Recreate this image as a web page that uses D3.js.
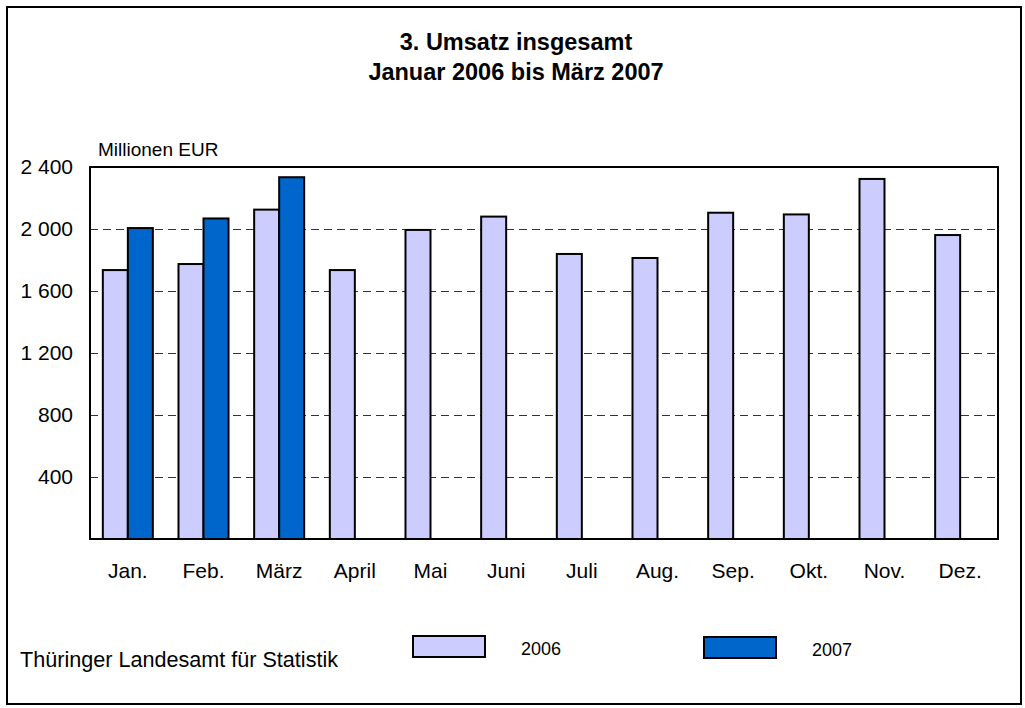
<!DOCTYPE html>
<html>
<head>
<meta charset="utf-8">
<script src="https://cdn.jsdelivr.net/npm/d3@7"></script>
<style>
  body { margin: 0; background: #fff; }
  svg text { font-family: Arial, "Liberation Sans", sans-serif; fill: #000; }
  .title { font-size: 23.5px; font-weight: bold; }
  .tick-label { font-size: 21px; }
  .unit { font-size: 19px; }
  .legend-label { font-size: 18px; }
  .source { font-size: 21.6px; }
</style>
</head>
<body>
<div id="chart"></div>
<script>
// chart values
var months = ['Jan.', 'Feb.', 'März', 'April', 'Mai', 'Juni', 'Juli', 'Aug.', 'Sep.', 'Okt.', 'Nov.', 'Dez.'];
var years = ['2006', '2007'];
var values2006 = [1735, 1774, 2125, 1735, 1994, 2080, 1839, 1813, 2105, 2094, 2323, 1961];
var values2007 = [2006, 2068, 2334];
var yTicks = [400, 800, 1200, 1600, 2000, 2400];
var colors = { '2006': '#CCCCFF', '2007': '#0066CC' };

var width = 1025, height = 708;
var plot = { left: 90, right: 998, top: 167, bottom: 539 };

var svg = d3.select('#chart')
  .append('svg')
    .attr('width', width)
    .attr('height', height);

// outer frame
svg.append('rect')
  .attr('x', 7).attr('y', 7)
  .attr('width', 1014).attr('height', 697)
  .attr('fill', '#fff')
  .attr('stroke', '#000')
  .attr('stroke-width', 2);

// title
var title = svg.append('text')
  .attr('class', 'title')
  .attr('text-anchor', 'middle');
title.append('tspan').attr('x', 516).attr('y', 50).text('3. Umsatz insgesamt');
title.append('tspan').attr('x', 516).attr('y', 80).text('Januar 2006 bis März 2007');

// scales
var y = d3.scaleLinear()
  .domain([0, 2400])
  .range([plot.bottom, plot.top]);

var x0 = d3.scaleBand()
  .domain(months)
  .range([plot.left, plot.right])
  .paddingInner(0.339)
  .paddingOuter(0.1695);

var x1 = d3.scaleBand()
  .domain(years)
  .range([0, x0.bandwidth()]);

// rows for bars
var bars = [];
months.forEach(function (m, i) {
  bars.push({ month: m, year: '2006', value: values2006[i] });
  if (values2007[i] !== undefined) {
    bars.push({ month: m, year: '2007', value: values2007[i] });
  }
});

// gridlines
svg.append('g')
  .selectAll('line')
  .data(yTicks.filter(function (t) { return t < 2400; }))
  .join('line')
    .attr('x1', plot.left)
    .attr('x2', plot.right)
    .attr('y1', function (d) { return Math.round(y(d)) + 0.5; })
    .attr('y2', function (d) { return Math.round(y(d)) + 0.5; })
    .attr('stroke', '#333')
    .attr('stroke-width', 1)
    .attr('stroke-dasharray', '8,5');

// bars
svg.append('g')
  .selectAll('rect')
  .data(bars)
  .join('rect')
    .attr('x', function (d) { return x0(d.month) + x1(d.year); })
    .attr('y', function (d) { return y(d.value); })
    .attr('width', x1.bandwidth())
    .attr('height', function (d) { return y(0) - y(d.value); })
    .attr('fill', function (d) { return colors[d.year]; })
    .attr('stroke', '#000')
    .attr('stroke-width', 2);

// plot frame
svg.append('rect')
  .attr('x', plot.left).attr('y', plot.top)
  .attr('width', plot.right - plot.left)
  .attr('height', plot.bottom - plot.top)
  .attr('fill', 'none')
  .attr('stroke', '#000')
  .attr('stroke-width', 2);

// y axis labels
var fmt = function (v) {
  return d3.format(',')(v).replace(/,/g, ' ');
};
var yAxis = d3.axisLeft(y)
  .tickValues(yTicks)
  .tickSize(0)
  .tickPadding(17)
  .tickFormat(fmt);
var yG = svg.append('g')
  .attr('transform', 'translate(' + plot.left + ',0)')
  .call(yAxis);
yG.select('.domain').remove();
yG.selectAll('text')
  .attr('class', 'tick-label')
  .attr('font-family', null)
  .attr('font-size', null)
  .attr('fill', '#000');

// x axis labels
var xAxis = d3.axisBottom(x0)
  .tickSize(0)
  .tickPadding(24);
var xG = svg.append('g')
  .attr('transform', 'translate(0,' + plot.bottom + ')')
  .call(xAxis);
xG.select('.domain').remove();
xG.selectAll('text')
  .attr('class', 'tick-label')
  .attr('font-family', null)
  .attr('font-size', null)
  .attr('fill', '#000');

// unit label
svg.append('text')
  .attr('class', 'unit')
  .attr('x', 98)
  .attr('y', 156)
  .text('Millionen EUR');

// source
svg.append('text')
  .attr('class', 'source')
  .attr('x', 20)
  .attr('y', 667)
  .text('Thüringer Landesamt für Statistik');

// legend
var legendPos = [
  { year: '2006', x: 413, y: 636 },
  { year: '2007', x: 704, y: 637 }
];
var legend = svg.append('g')
  .selectAll('g')
  .data(legendPos)
  .join('g')
    .attr('transform', function (d) { return 'translate(' + d.x + ',' + d.y + ')'; });
legend.append('rect')
  .attr('width', 72)
  .attr('height', 21)
  .attr('fill', function (d) { return colors[d.year]; })
  .attr('stroke', '#000')
  .attr('stroke-width', 2);
legend.append('text')
  .attr('class', 'legend-label')
  .attr('x', 108)
  .attr('y', 19)
  .text(function (d) { return d.year; });
</script>
</body>
</html>
